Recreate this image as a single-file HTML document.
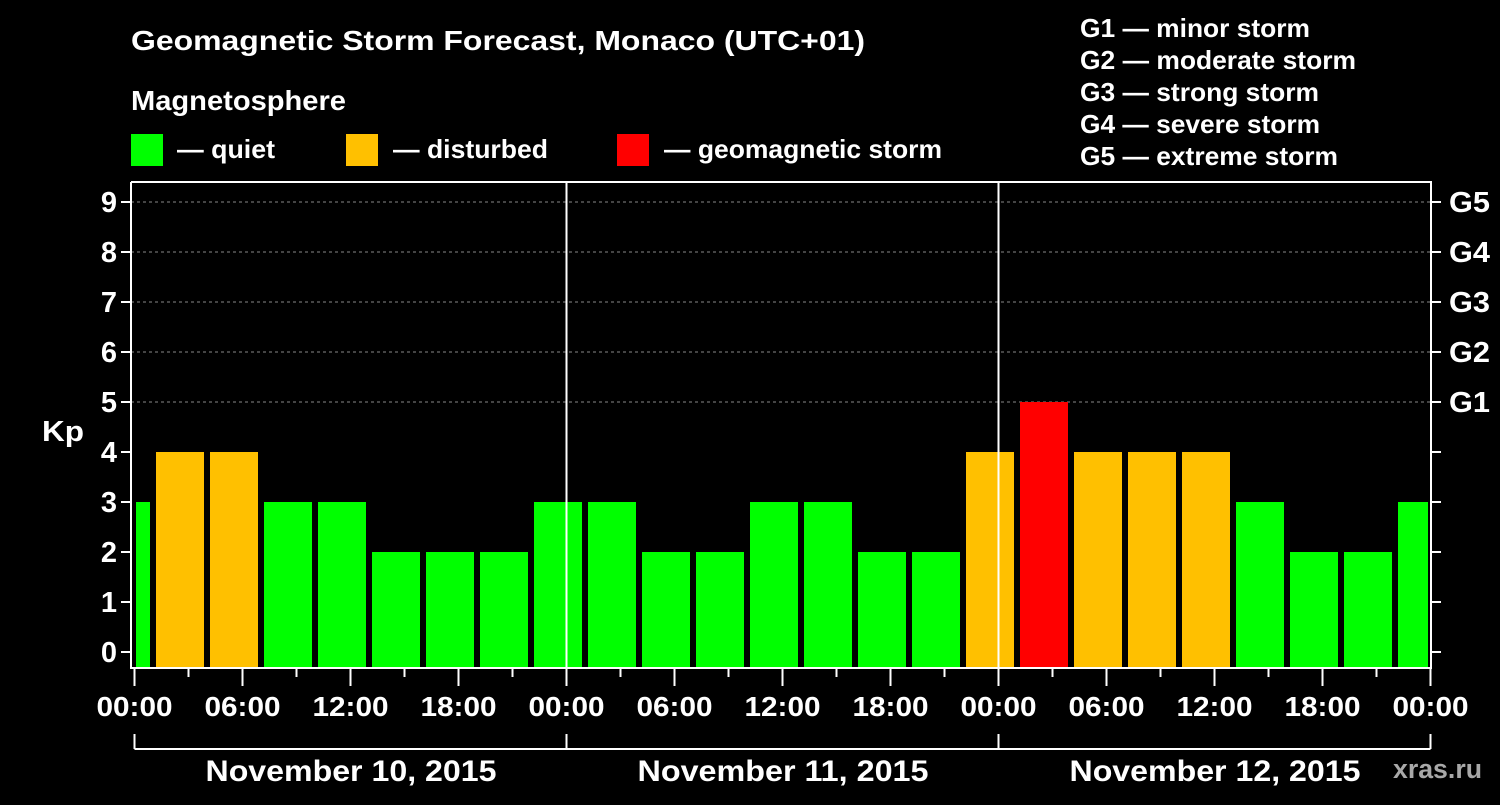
<!DOCTYPE html>
<html><head><meta charset="utf-8"><style>
body{margin:0;background:#000;width:1500px;height:800px;overflow:hidden}
svg text{font-family:"Liberation Sans",Arial,sans-serif;font-weight:bold;fill:#fff}
</style></head><body>
<svg id="c" width="1500" height="800" viewBox="0 0 1500 800">
<text x="131" y="50" font-size="28" textLength="734" lengthAdjust="spacingAndGlyphs">Geomagnetic Storm Forecast, Monaco (UTC+01)</text>
<text x="131" y="110" font-size="28" textLength="215" lengthAdjust="spacingAndGlyphs">Magnetosphere</text>
<g>
<rect x="131" y="134" width="32" height="32" fill="#00ff00"/>
<text x="177" y="158" font-size="26" textLength="98" lengthAdjust="spacingAndGlyphs">— quiet</text>
<rect x="346" y="134" width="32" height="32" fill="#ffc000"/>
<text x="393" y="158" font-size="26" textLength="155" lengthAdjust="spacingAndGlyphs">— disturbed</text>
<rect x="617" y="134" width="32" height="32" fill="#ff0000"/>
<text x="664" y="158" font-size="26" textLength="278" lengthAdjust="spacingAndGlyphs">— geomagnetic storm</text>
</g>
<g font-size="26">
<text x="1080" y="37" textLength="230" lengthAdjust="spacingAndGlyphs">G1 — minor storm</text>
<text x="1080" y="69" textLength="276" lengthAdjust="spacingAndGlyphs">G2 — moderate storm</text>
<text x="1080" y="101" textLength="239" lengthAdjust="spacingAndGlyphs">G3 — strong storm</text>
<text x="1080" y="133" textLength="240" lengthAdjust="spacingAndGlyphs">G4 — severe storm</text>
<text x="1080" y="165" textLength="258" lengthAdjust="spacingAndGlyphs">G5 — extreme storm</text>
</g>
<text x="42" y="441" font-size="29" textLength="42" lengthAdjust="spacingAndGlyphs">Kp</text>
<text x="1393" y="778" font-size="27" textLength="89" lengthAdjust="spacingAndGlyphs" style="fill:#a8a8a8">xras.ru</text>
<g id="plot"></g>
</svg>
<script>
const kpValues=[3,4,4,3,3,2,2,2,3,3,2,2,3,3,2,2,4,5,4,4,4,3,2,2,3];
const slotStartHours=[-2,1,4,7,10,13,16,19,22,25,28,31,34,37,40,43,46,49,52,55,58,61,64,67,70];
const yTicks=[0,1,2,3,4,5,6,7,8,9];
const gLabels=["G1","G2","G3","G4","G5"];
const gLevels=[5,6,7,8,9];
const timeLabels=["00:00","06:00","12:00","18:00","00:00","06:00","12:00","18:00","00:00","06:00","12:00","18:00","00:00"];
const dayLabels=["November 10, 2015","November 11, 2015","November 12, 2015"];
const NS="http://www.w3.org/2000/svg";
const X0=134.5,PX=18,L=131,R=1431,T=182,B=668;
const x=h=>X0+h*PX, y=v=>652-v*50;
const g=document.getElementById('plot');
function el(t,a,txt){const e=document.createElementNS(NS,t);for(const k in a)e.setAttribute(k,a[k]);if(txt!=null)e.textContent=txt;g.appendChild(e);return e;}
const col=v=>v>=5?'#ff0000':v>=4?'#ffc000':'#00ff00';
gLevels.forEach(v=>{const e=el('line',{x1:L,x2:R,y1:y(v),y2:y(v),stroke:'#888','stroke-dasharray':'3,3','stroke-width':1});

});
kpValues.forEach((v,i)=>{let a=x(slotStartHours[i])+3.5,b=x(slotStartHours[i]+3)-2.5;a=Math.max(a,L+5);b=Math.min(b,R-3);
const r=el('rect',{x:a,y:y(v),width:b-a,height:B-y(v),fill:col(v)});

});
[1,2].forEach(d=>{const e=el('line',{x1:x(24*d),x2:x(24*d),y1:T,y2:B,stroke:'#fff','stroke-width':2});

});
const fr=el('path',{d:`M${L} ${T}V${B}H${R}V${T}H${L}`,fill:'none',stroke:'#fff','stroke-width':2});


yTicks.forEach(v=>{el('line',{x1:L-10,x2:L,y1:y(v),y2:y(v),stroke:'#fff','stroke-width':2});
el('line',{x1:R,x2:R+10,y1:y(v),y2:y(v),stroke:'#fff','stroke-width':2});
const t=el('text',{x:L-14,y:y(v)+10,'font-size':29,'text-anchor':'end'},v);

});
gLabels.forEach((s,i)=>{const t=el('text',{x:R+18,y:y(gLevels[i])+10,'font-size':29,textLength:41,lengthAdjust:'spacingAndGlyphs'},s);

});
for(let h=0;h<=72;h+=3){const big=h%6===0;el('line',{x1:x(h),x2:x(h),y1:B,y2:B+(big?18:9),stroke:'#fff','stroke-width':2});}
timeLabels.forEach((s,i)=>{const t=el('text',{x:x(i*6)-38,y:716,'font-size':28,textLength:76,lengthAdjust:'spacingAndGlyphs'},s);

});
el('line',{x1:x(0),x2:x(72),y1:749,y2:749,stroke:'#fff','stroke-width':2});
[0,24,48,72].forEach(h=>el('line',{x1:x(h),x2:x(h),y1:734,y2:749,stroke:'#fff','stroke-width':2}));
dayLabels.forEach((s,i)=>{const t=el('text',{x:x(24*i+12)-145,y:781,'font-size':30,textLength:291,lengthAdjust:'spacingAndGlyphs'},s);

});
</script>
</body></html>
